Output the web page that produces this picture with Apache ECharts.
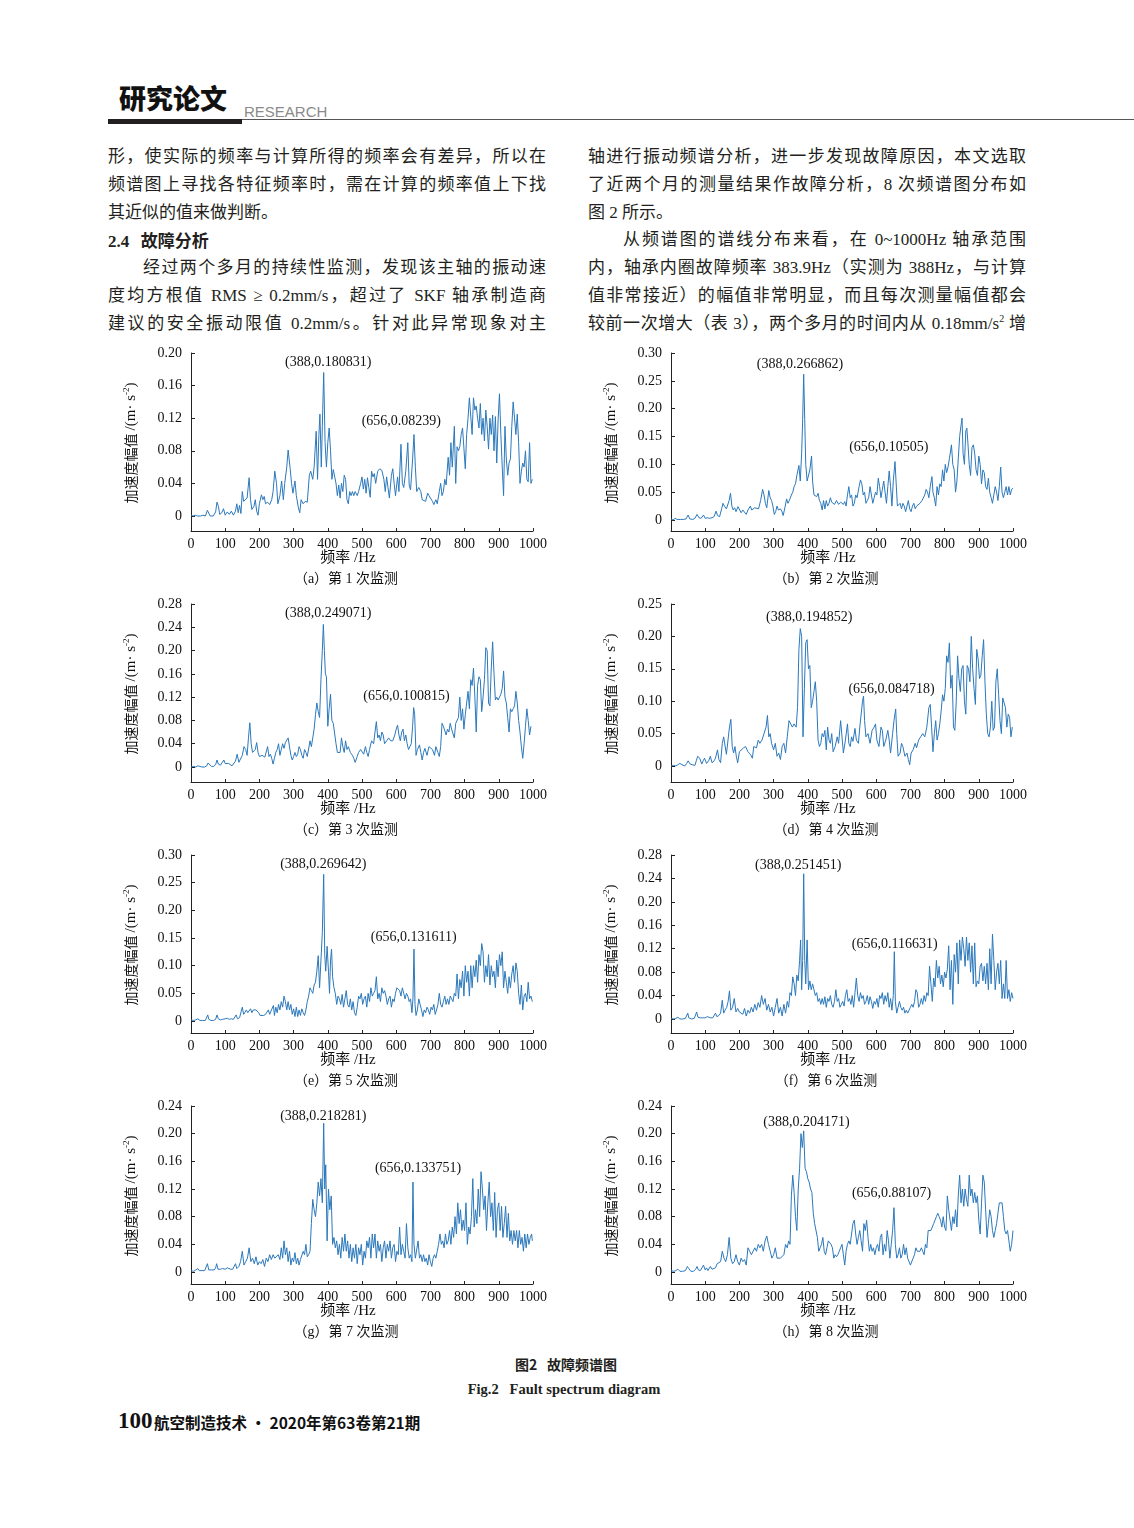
<!DOCTYPE html>
<html><head><meta charset="utf-8">
<script src="https://cdn.jsdelivr.net/npm/echarts@6/dist/echarts.min.js"></script>
<style>
html,body{margin:0;padding:0;background:#fff;}
#page{position:relative;width:1134px;height:1528px;overflow:hidden;background:#fff;color:#231f20;}
.t{position:absolute;white-space:nowrap;}
.ln{position:absolute;width:438px;height:28px;line-height:28px;font-size:17px;font-family:"Liberation Serif","Noto Sans CJK SC",serif;text-align:justify;text-align-last:justify;color:#231f20;}
.ln.last{text-align-last:left;}
.ln.ind{padding-left:35px;width:403px;}
.ln sup{font-size:10px;line-height:0;vertical-align:7px;}
#chart{position:absolute;left:0;top:0;width:1134px;height:1528px;}
</style></head>
<body>
<div id="page">
  <div class="t" style="left:119px;top:82px;font:900 27px/32px 'Noto Sans CJK SC';color:#111;letter-spacing:0px;">研究论文</div>
  <div class="t" style="left:244px;top:104px;font:15px/16px 'Liberation Sans Narrow','Liberation Sans',sans-serif;color:#8a8a8a;">RESEARCH</div>
  <div class="t" style="left:108px;top:119px;width:134px;height:5px;background:#231f20;"></div>
  <div class="t" style="left:242px;top:119px;width:892px;height:1px;background:#555;"></div>

  <div class="ln" style="left:108px;top:143px;">形，使实际的频率与计算所得的频率会有差异，所以在</div>
  <div class="ln" style="left:108px;top:171px;">频谱图上寻找各特征频率时，需在计算的频率值上下找</div>
  <div class="ln last" style="left:108px;top:199px;">其近似的值来做判断。</div>
  <div class="ln last" style="left:108px;top:226px;font-family:'Noto Sans CJK SC';font-weight:bold;"><span style="font-family:'Liberation Serif';font-weight:bold;">2.4</span>&nbsp;&nbsp;&nbsp;故障分析</div>
  <div class="ln ind" style="left:108px;top:254px;">经过两个多月的持续性监测，发现该主轴的振动速</div>
  <div class="ln" style="left:108px;top:282px;">度均方根值 RMS ≥ 0.2mm/s，超过了 SKF 轴承制造商</div>
  <div class="ln" style="left:108px;top:310px;">建议的安全振动限值 0.2mm/s。针对此异常现象对主</div>

  <div class="ln" style="left:588px;top:143px;">轴进行振动频谱分析，进一步发现故障原因，本文选取</div>
  <div class="ln" style="left:588px;top:171px;">了近两个月的测量结果作故障分析，8 次频谱图分布如</div>
  <div class="ln last" style="left:588px;top:199px;">图 2 所示。</div>
  <div class="ln ind" style="left:588px;top:226px;">从频谱图的谱线分布来看，在 0~1000Hz 轴承范围</div>
  <div class="ln" style="left:588px;top:254px;">内，轴承内圈故障频率 383.9Hz（实测为 388Hz，与计算</div>
  <div class="ln" style="left:588px;top:282px;">值非常接近）的幅值非常明显，而且每次测量幅值都会</div>
  <div class="ln" style="left:588px;top:310px;">较前一次增大（表 3），两个多月的时间内从 0.18mm/s<sup>2</sup> 增</div>

  <div class="t" style="left:366px;top:1353px;width:400px;text-align:center;font:bold 14px/22px 'Noto Sans CJK SC';color:#231f20;">图2&nbsp;&nbsp;&nbsp;故障频谱图</div>
  <div class="t" style="left:364px;top:1378px;width:400px;text-align:center;font:bold 14.5px/22px 'Liberation Serif';color:#231f20;">Fig.2&nbsp;&nbsp;&nbsp;Fault spectrum diagram</div>

  <div class="t" style="left:118px;top:1407px;font:bold 23px/28px 'Liberation Serif';color:#111;">100</div>
  <div class="t" style="left:154px;top:1409px;font:bold 15.5px/26px 'Noto Sans CJK SC';color:#111;">航空制造技术 · 2020年第63卷第21期</div>

  <div id="chart"></div>
</div>
<script>
// ---------------- data ----------------
const xTicks = [0,100,200,300,400,500,600,700,800,900,1000];

const specA = [[0,.001],[6,0],[12,.001],[18,0],[22,.002],[28,0],[35,.001],[42,0],[48,.007],[52,.006],[56,0],[65,0],[72,.005],[76,.017],[80,.012],[84,.002],[90,.004],[95,.009],[100,.001],[106,.005],[112,.002],[118,.006],[124,.001],[130,.006],[134,.015],[138,.004],[142,.013],[146,.003],[150,.03],[154,.018],[158,.02],[164,.022],[170,.047],[174,.02],[178,.008],[184,.012],[188,.02],[192,.006],[196,.001],[200,.015],[206,.026],[210,.02],[214,.024],[218,.015],[224,.017],[230,.014],[236,.02],[240,.03],[245,.055],[250,.04],[254,.015],[260,.025],[265,.043],[270,.02],[274,.04],[280,.06],[284,.081],[290,.058],[294,.04],[298,.028],[304,.043],[308,.025],[314,.01],[318,.004],[322,.02],[328,.015],[334,.018],[340,.017],[346,.05],[350,.055],[356,.045],[360,.06],[366,.104],[370,.045],[374,.1],[377,.125],[381,.06],[384,.11],[388,.176],[392,.09],[396,.06],[400,.09],[404,.108],[408,.08],[412,.045],[416,.057],[420,.055],[424,.04],[428,.025],[432,.038],[436,.022],[440,.04],[444,.03],[448,.05],[452,.045],[456,.02],[460,.015],[464,.03],[468,.025],[472,.03],[476,.025],[480,.03],[486,.025],[490,.03],[496,.04],[500,.048],[504,.033],[508,.045],[512,.028],[516,.047],[520,.035],[524,.023],[528,.055],[532,.048],[536,.052],[540,.04],[546,.055],[552,.058],[558,.056],[564,.045],[568,.03],[572,.048],[576,.035],[580,.022],[586,.05],[590,.058],[594,.04],[598,.025],[604,.048],[608,.03],[614,.088],[618,.04],[622,.035],[628,.055],[634,.09],[638,.038],[642,.032],[648,.07],[652,.1],[656,.06],[660,.03],[666,.035],[672,.03],[676,.02],[680,.022],[686,.018],[692,.028],[696,.025],[700,.024],[706,.018],[710,.014],[716,.02],[720,.015],[726,.03],[730,.04],[734,.025],[738,.03],[742,.045],[746,.038],[752,.072],[756,.05],[760,.09],[764,.06],[770,.11],[774,.04],[778,.085],[782,.08],[786,.085],[790,.1],[794,.108],[798,.11],[802,.058],[806,.1],[810,.12],[814,.145],[818,.145],[822,.1],[826,.145],[830,.13],[834,.135],[838,.12],[842,.108],[846,.138],[850,.1],[854,.12],[858,.092],[862,.13],[866,.11],[870,.082],[874,.12],[878,.1],[882,.124],[886,.08],[890,.122],[894,.065],[898,.118],[902,.15],[906,.1],[910,.06],[914,.025],[918,.11],[922,.07],[926,.05],[930,.065],[934,.07],[938,.11],[942,.14],[946,.12],[950,.1],[954,.125],[958,.09],[962,.04],[966,.055],[970,.065],[974,.06],[978,.08],[982,.045],[986,.042],[990,.09],[994,.04],[998,.045]];

const specB = [[0,.002],[6,0],[12,.003],[18,.001],[22,.004],[28,.001],[36,.001],[44,.002],[50,.009],[55,.002],[64,.001],[70,.003],[76,.01],[82,.004],[88,.003],[95,.009],[100,.003],[106,.004],[112,.003],[120,.004],[126,.006],[132,.016],[136,.008],[142,.006],[148,.02],[152,.03],[156,.025],[162,.02],[166,.022],[170,.035],[174,.048],[178,.025],[182,.018],[186,.022],[190,.015],[196,.024],[200,.022],[205,.013],[210,.018],[215,.015],[220,.01],[225,.018],[232,.025],[236,.018],[240,.015],[245,.022],[250,.02],[256,.02],[262,.035],[268,.055],[272,.045],[276,.03],[280,.022],[286,.053],[290,.04],[294,.035],[298,.025],[302,.01],[306,.015],[310,.025],[314,.018],[320,.02],[324,.016],[328,.008],[334,.025],[338,.038],[342,.03],[346,.035],[352,.045],[356,.05],[360,.06],[364,.065],[368,.08],[374,.098],[378,.07],[382,.12],[385,.18],[388,.262],[391,.18],[394,.1],[398,.07],[402,.07],[406,.09],[411,.115],[414,.07],[418,.045],[422,.048],[426,.042],[430,.048],[434,.035],[438,.03],[442,.018],[446,.035],[450,.02],[454,.035],[458,.025],[462,.03],[466,.04],[470,.032],[474,.035],[478,.028],[484,.035],[490,.028],[496,.032],[500,.035],[504,.028],[508,.033],[512,.025],[516,.045],[520,.06],[524,.04],[528,.045],[532,.025],[536,.03],[540,.045],[544,.04],[550,.06],[554,.072],[558,.065],[562,.045],[566,.05],[570,.03],[574,.035],[578,.04],[582,.06],[586,.058],[590,.03],[594,.04],[598,.05],[602,.045],[606,.075],[610,.06],[614,.04],[618,.055],[622,.07],[626,.05],[630,.03],[634,.06],[638,.088],[642,.06],[646,.025],[650,.07],[655,.105],[658,.07],[662,.025],[666,.022],[670,.03],[674,.02],[678,.03],[682,.025],[686,.015],[690,.012],[694,.035],[698,.02],[702,.015],[706,.025],[710,.03],[714,.02],[718,.025],[722,.022],[728,.03],[734,.035],[738,.038],[742,.045],[746,.055],[750,.05],[754,.04],[758,.06],[763,.078],[766,.05],[770,.04],[774,.025],[778,.06],[782,.045],[786,.065],[790,.06],[794,.09],[798,.07],[802,.1],[806,.085],[810,.095],[814,.11],[820,.135],[824,.1],[828,.09],[832,.05],[836,.07],[840,.11],[844,.15],[848,.17],[851,.183],[854,.12],[858,.1],[862,.16],[865,.165],[868,.14],[872,.1],[876,.08],[880,.13],[884,.135],[888,.12],[892,.09],[896,.08],[900,.115],[904,.1],[908,.065],[912,.09],[916,.085],[920,.06],[924,.055],[928,.075],[932,.05],[936,.04],[940,.03],[944,.045],[948,.06],[952,.05],[956,.035],[960,.06],[964,.095],[968,.05],[972,.04],[976,.05],[980,.06],[984,.045],[988,.06],[992,.045],[996,.055],[1000,.057]];

const specC = [[0,0],[8,.001],[14,0],[20,.002],[26,.001],[32,0],[40,0],[46,.002],[50,.007],[54,.004],[60,.001],[66,.001],[72,.004],[76,.012],[80,.005],[86,.003],[90,.002],[96,.012],[100,.006],[105,.003],[110,.006],[115,.008],[120,.002],[125,.001],[130,.01],[135,.022],[140,.008],[145,.005],[150,.02],[155,.035],[160,.03],[164,.02],[168,.05],[172,.076],[176,.04],[180,.025],[184,.022],[188,.03],[192,.042],[196,.025],[200,.018],[204,.015],[208,.02],[212,.022],[216,.017],[220,.02],[224,.035],[228,.018],[232,.022],[236,.015],[240,.005],[244,.015],[248,.025],[252,.03],[256,.04],[260,.02],[264,.03],[268,.04],[272,.032],[276,.042],[280,.045],[284,.05],[288,.05],[292,.02],[296,.012],[300,.018],[304,.025],[308,.018],[312,.022],[316,.035],[320,.03],[324,.02],[328,.015],[332,.03],[336,.025],[340,.018],[344,.015],[348,.045],[352,.035],[356,.05],[360,.065],[364,.09],[368,.11],[372,.095],[376,.085],[380,.15],[384,.2],[387,.245],[390,.2],[393,.16],[396,.155],[400,.07],[404,.1],[408,.125],[412,.08],[416,.075],[420,.076],[424,.04],[428,.025],[432,.022],[436,.025],[440,.05],[444,.035],[448,.025],[452,.045],[456,.03],[460,.035],[466,.025],[472,.02],[476,.015],[480,.008],[486,.018],[490,.025],[496,.03],[500,.032],[505,.022],[510,.035],[514,.025],[518,.018],[522,.03],[528,.045],[534,.04],[538,.06],[542,.078],[546,.05],[550,.055],[554,.045],[558,.06],[562,.055],[566,.04],[572,.045],[578,.05],[584,.045],[590,.045],[596,.055],[600,.065],[604,.072],[608,.055],[612,.045],[616,.06],[620,.065],[624,.045],[628,.055],[632,.04],[636,.03],[640,.035],[644,.04],[648,.07],[651,.102],[654,.09],[658,.02],[662,.03],[668,.038],[672,.025],[676,.012],[680,.025],[684,.032],[690,.02],[696,.035],[700,.036],[706,.03],[712,.02],[716,.035],[722,.025],[726,.018],[730,.035],[734,.075],[738,.07],[742,.07],[746,.055],[750,.065],[754,.06],[758,.075],[762,.065],[766,.068],[770,.05],[774,.075],[778,.072],[782,.085],[786,.12],[790,.08],[794,.1],[798,.065],[802,.09],[806,.11],[810,.13],[814,.1],[818,.15],[822,.14],[826,.17],[830,.12],[834,.06],[838,.14],[842,.155],[846,.15],[850,.095],[854,.12],[858,.15],[862,.205],[866,.2],[870,.11],[874,.105],[878,.17],[882,.215],[886,.16],[890,.115],[894,.12],[898,.115],[902,.12],[906,.125],[910,.135],[914,.165],[918,.12],[922,.11],[926,.085],[930,.06],[934,.1],[938,.095],[942,.1],[946,.105],[950,.13],[954,.11],[958,.08],[962,.06],[966,.035],[970,.015],[974,.04],[978,.07],[982,.1],[986,.08],[990,.055],[994,.07]];

const specD = [[0,0],[8,.001],[14,0],[20,.002],[26,.004],[32,.002],[40,0],[46,.004],[50,.008],[56,.003],[62,.002],[70,.001],[74,.008],[78,.015],[84,.012],[90,.003],[94,.008],[98,.012],[104,.004],[110,.008],[115,.015],[120,.005],[126,.008],[130,.012],[136,.025],[140,.01],[145,.005],[150,.035],[154,.045],[158,.048],[162,.018],[166,.02],[171,.06],[175,.072],[179,.03],[183,.02],[187,.03],[191,.015],[195,.005],[200,.022],[205,.02],[212,.028],[218,.03],[225,.022],[232,.018],[238,.012],[242,.03],[250,.028],[255,.04],[260,.035],[266,.04],[272,.05],[278,.06],[282,.078],[286,.045],[290,.05],[294,.035],[300,.025],[305,.035],[310,.015],[315,.02],[320,.01],[325,.03],[330,.035],[335,.02],[340,.045],[345,.07],[350,.07],[355,.06],[360,.065],[366,.06],[370,.09],[374,.18],[378,.212],[382,.2],[386,.045],[390,.12],[394,.19],[398,.195],[402,.15],[406,.155],[410,.09],[414,.1],[418,.115],[422,.13],[426,.1],[430,.04],[434,.03],[438,.035],[442,.05],[446,.045],[450,.055],[454,.025],[458,.06],[462,.04],[466,.035],[470,.05],[474,.022],[480,.03],[486,.045],[490,.035],[496,.07],[500,.045],[504,.02],[510,.04],[516,.065],[520,.035],[524,.03],[528,.045],[532,.038],[538,.058],[542,.04],[548,.035],[552,.06],[556,.06],[560,.1],[563,.108],[566,.07],[570,.045],[576,.05],[582,.035],[588,.055],[594,.06],[598,.065],[602,.04],[608,.03],[614,.06],[618,.055],[622,.03],[628,.04],[634,.055],[638,.04],[642,.02],[648,.05],[652,.07],[657,.088],[660,.05],[664,.015],[670,.02],[674,.035],[678,.03],[684,.015],[690,.02],[694,.01],[698,.002],[702,.02],[708,.025],[714,.035],[718,.028],[724,.04],[730,.045],[736,.05],[742,.045],[748,.06],[754,.09],[758,.095],[762,.06],[766,.022],[770,.05],[774,.07],[778,.04],[782,.05],[786,.065],[790,.085],[794,.11],[798,.1],[802,.12],[806,.17],[810,.16],[814,.19],[818,.12],[822,.14],[826,.06],[830,.055],[834,.1],[838,.17],[842,.135],[846,.115],[850,.15],[854,.155],[858,.1],[862,.08],[866,.155],[870,.15],[874,.13],[878,.2],[882,.15],[886,.12],[890,.095],[894,.18],[898,.165],[902,.135],[906,.14],[910,.17],[914,.195],[918,.13],[922,.08],[926,.05],[930,.045],[934,.06],[938,.1],[942,.055],[946,.06],[950,.13],[954,.15],[958,.11],[962,.07],[966,.05],[970,.105],[974,.105],[978,.09],[982,.06],[986,.08],[990,.075],[994,.045],[998,.06]];

const specE = [[0,.002],[8,.001],[14,.002],[20,.004],[26,.001],[34,.001],[42,.001],[46,.004],[49,.011],[52,.003],[58,.001],[66,.001],[72,.003],[76,.011],[80,.004],[86,.002],[92,.003],[96,.006],[100,.004],[106,.005],[112,.003],[118,.004],[124,.003],[128,.006],[132,.011],[136,.004],[142,.006],[146,.008],[150,.025],[154,.012],[158,.016],[162,.02],[166,.015],[170,.018],[174,.022],[178,.015],[182,.02],[186,.022],[190,.02],[194,.022],[198,.015],[202,.01],[206,.008],[212,.01],[218,.012],[222,.015],[226,.02],[230,.012],[234,.018],[238,.015],[241,.028],[244,.01],[248,.025],[252,.015],[256,.03],[260,.02],[264,.035],[268,.025],[272,.045],[276,.035],[280,.02],[284,.035],[288,.02],[292,.03],[296,.012],[300,.022],[304,.008],[308,.025],[312,.008],[316,.02],[320,.01],[324,.022],[328,.015],[332,.01],[336,.02],[340,.035],[344,.045],[348,.06],[352,.055],[356,.05],[360,.065],[364,.07],[368,.09],[372,.118],[376,.06],[380,.11],[384,.16],[388,.265],[391,.12],[394,.09],[398,.135],[402,.09],[405,.05],[408,.11],[411,.13],[414,.08],[418,.06],[422,.05],[426,.03],[430,.045],[434,.04],[438,.03],[442,.048],[446,.025],[450,.04],[454,.055],[458,.03],[462,.025],[466,.04],[470,.02],[474,.035],[478,.015],[482,.01],[486,.025],[490,.045],[494,.04],[498,.05],[502,.03],[506,.04],[510,.045],[514,.025],[518,.05],[522,.035],[526,.06],[530,.045],[534,.05],[538,.055],[542,.08],[546,.04],[550,.05],[554,.035],[558,.06],[562,.05],[566,.055],[570,.045],[574,.03],[578,.04],[582,.045],[586,.025],[590,.04],[594,.035],[598,.05],[602,.06],[606,.06],[610,.055],[614,.045],[618,.06],[622,.05],[626,.04],[630,.05],[634,.045],[638,.035],[642,.04],[646,.015],[649,.04],[652,.13],[655,.03],[658,.01],[662,.02],[666,.04],[670,.03],[674,.02],[678,.008],[682,.02],[686,.015],[690,.025],[694,.02],[698,.012],[702,.025],[706,.02],[710,.03],[714,.012],[718,.02],[722,.03],[726,.05],[730,.03],[734,.025],[738,.035],[742,.045],[746,.03],[750,.04],[754,.03],[758,.045],[762,.04],[766,.035],[770,.05],[774,.045],[778,.085],[782,.04],[786,.075],[790,.06],[794,.09],[798,.045],[802,.1],[806,.07],[810,.09],[814,.045],[818,.1],[822,.06],[826,.1],[830,.08],[834,.11],[838,.07],[842,.12],[846,.1],[850,.14],[854,.125],[858,.07],[862,.1],[866,.08],[870,.12],[874,.065],[878,.1],[882,.08],[886,.09],[890,.06],[894,.11],[898,.08],[902,.12],[906,.1],[910,.125],[914,.06],[918,.09],[922,.07],[926,.05],[930,.08],[934,.06],[938,.085],[942,.1],[946,.07],[950,.105],[954,.09],[958,.05],[962,.03],[966,.065],[970,.02],[974,.045],[978,.05],[982,.035],[986,.07],[990,.04],[994,.045],[998,.035]];

const specF = [[0,.001],[8,0],[14,.001],[20,.003],[26,0],[34,0],[42,.001],[46,.004],[49,.01],[52,.002],[60,0],[68,.001],[72,.004],[75,.012],[79,.003],[86,.002],[92,.002],[96,.004],[100,.002],[106,.004],[110,.005],[116,.002],[122,.002],[126,.005],[130,.01],[134,.004],[140,.006],[145,.01],[150,.032],[154,.01],[158,.015],[163,.02],[167,.03],[171,.048],[175,.015],[180,.02],[185,.035],[190,.012],[195,.018],[200,.012],[205,.015],[210,.008],[215,.018],[220,.005],[225,.015],[230,.01],[235,.02],[240,.012],[245,.025],[250,.015],[255,.028],[260,.02],[265,.04],[270,.025],[275,.035],[280,.015],[285,.025],[290,.012],[295,.02],[300,.005],[305,.02],[310,.035],[315,.01],[320,.02],[325,.005],[330,.025],[335,.01],[340,.03],[344,.02],[348,.045],[352,.04],[356,.072],[360,.06],[364,.04],[368,.075],[372,.065],[376,.1],[379,.135],[382,.05],[385,.1],[388,.248],[391,.1],[394,.06],[398,.135],[402,.05],[406,.065],[410,.05],[414,.06],[418,.06],[422,.04],[426,.045],[430,.03],[434,.035],[438,.025],[442,.035],[446,.025],[450,.038],[454,.02],[458,.035],[462,.03],[466,.04],[470,.025],[474,.02],[478,.03],[482,.05],[486,.03],[490,.035],[494,.02],[498,.025],[502,.03],[506,.022],[510,.04],[514,.05],[518,.03],[522,.035],[526,.025],[530,.04],[534,.02],[538,.045],[542,.07],[546,.04],[550,.03],[554,.045],[558,.035],[562,.04],[566,.025],[570,.03],[574,.04],[578,.025],[582,.038],[586,.03],[590,.018],[594,.03],[598,.025],[602,.035],[606,.02],[610,.04],[614,.035],[618,.045],[622,.025],[626,.04],[630,.03],[634,.045],[638,.02],[642,.035],[646,.015],[650,.04],[653,.115],[656,.03],[660,.01],[664,.02],[668,.03],[672,.02],[676,.015],[680,.02],[684,.01],[688,.015],[692,.01],[696,.012],[700,.02],[704,.025],[708,.02],[712,.03],[716,.05],[720,.045],[724,.02],[728,.025],[732,.035],[736,.025],[740,.04],[744,.03],[748,.045],[752,.04],[756,.09],[760,.06],[764,.03],[768,.07],[772,.055],[776,.1],[780,.07],[784,.09],[788,.06],[792,.075],[796,.055],[800,.08],[804,.07],[808,.085],[812,.125],[816,.05],[820,.1],[824,.025],[828,.11],[832,.08],[836,.13],[840,.06],[844,.135],[848,.1],[852,.14],[856,.12],[860,.09],[864,.14],[868,.1],[872,.13],[876,.08],[880,.125],[884,.06],[888,.13],[892,.055],[896,.065],[900,.06],[904,.09],[908,.095],[912,.065],[916,.09],[920,.06],[924,.095],[928,.05],[932,.12],[936,.06],[940,.145],[944,.1],[948,.05],[952,.08],[956,.095],[960,.06],[964,.1],[968,.035],[972,.06],[976,.035],[980,.1],[984,.035],[988,.05],[992,.03],[996,.045],[1000,.035]];

const specG = [[0,.002],[8,.001],[14,.003],[20,.005],[24,.002],[32,.002],[40,.002],[45,.004],[48,.012],[52,.003],[60,.003],[68,.003],[72,.006],[75,.012],[79,.004],[86,.004],[92,.005],[96,.007],[100,.004],[106,.006],[110,.005],[116,.004],[122,.004],[126,.006],[130,.012],[134,.005],[140,.008],[145,.015],[150,.03],[155,.01],[160,.015],[165,.02],[170,.035],[175,.015],[180,.02],[185,.012],[190,.022],[195,.01],[200,.015],[205,.012],[210,.018],[215,.008],[220,.02],[225,.015],[230,.025],[235,.018],[240,.025],[245,.02],[250,.022],[255,.025],[260,.018],[264,.035],[268,.02],[272,.045],[276,.025],[280,.035],[284,.015],[288,.03],[292,.01],[296,.02],[300,.015],[304,.028],[308,.012],[312,.02],[316,.01],[320,.018],[324,.02],[328,.03],[332,.025],[336,.04],[340,.022],[344,.025],[348,.03],[352,.07],[356,.105],[360,.09],[364,.08],[368,.1],[372,.13],[376,.11],[380,.135],[384,.1],[388,.215],[391,.12],[394,.155],[398,.045],[402,.12],[406,.09],[410,.11],[414,.04],[418,.05],[422,.035],[426,.045],[430,.025],[434,.04],[438,.02],[442,.05],[446,.03],[450,.055],[454,.03],[458,.045],[462,.02],[466,.04],[470,.015],[474,.035],[478,.02],[482,.04],[486,.012],[490,.035],[494,.025],[498,.04],[502,.01],[506,.03],[510,.02],[514,.045],[518,.035],[522,.05],[526,.02],[530,.055],[534,.035],[538,.055],[542,.02],[546,.045],[550,.03],[554,.04],[558,.015],[562,.035],[566,.045],[570,.02],[574,.04],[578,.03],[582,.045],[586,.02],[590,.035],[594,.04],[598,.015],[602,.03],[606,.025],[610,.065],[614,.025],[618,.04],[622,.03],[626,.02],[630,.07],[634,.035],[638,.02],[642,.025],[646,.015],[649,.13],[652,.04],[656,.02],[660,.02],[664,.045],[668,.02],[672,.025],[676,.015],[680,.025],[684,.015],[688,.02],[692,.01],[696,.025],[700,.015],[704,.008],[708,.02],[712,.025],[716,.02],[720,.03],[724,.04],[728,.055],[732,.04],[736,.045],[740,.035],[744,.055],[748,.04],[752,.045],[756,.06],[760,.04],[764,.065],[768,.05],[772,.08],[776,.055],[780,.1],[784,.07],[788,.09],[792,.06],[796,.075],[800,.06],[804,.1],[808,.04],[812,.065],[816,.055],[820,.08],[824,.135],[828,.065],[832,.09],[836,.07],[840,.12],[844,.08],[848,.145],[852,.12],[856,.09],[860,.11],[864,.06],[868,.1],[872,.13],[876,.08],[880,.1],[884,.06],[888,.115],[892,.05],[896,.09],[900,.1],[904,.06],[908,.095],[912,.05],[916,.07],[920,.095],[924,.05],[928,.085],[932,.045],[936,.06],[940,.04],[944,.06],[948,.045],[952,.06],[956,.035],[960,.06],[964,.04],[968,.05],[972,.03],[976,.055],[980,.035],[984,.055],[988,.04],[992,.05],[996,.055],[998,.045]];

const specH = [[0,.002],[8,.001],[14,.002],[20,.004],[26,.001],[34,.001],[42,.002],[48,.008],[52,.005],[58,.001],[66,.001],[72,.004],[76,.008],[80,.003],[86,.002],[90,.004],[95,.01],[100,.003],[104,.006],[108,.002],[115,.008],[120,.004],[125,.002],[130,.006],[135,.012],[140,.01],[145,.015],[150,.03],[155,.02],[160,.015],[165,.025],[170,.05],[175,.02],[180,.012],[185,.015],[190,.025],[195,.015],[200,.01],[205,.02],[210,.015],[215,.018],[220,.01],[225,.035],[230,.03],[235,.025],[240,.03],[245,.035],[250,.03],[255,.04],[260,.035],[265,.04],[270,.03],[275,.045],[280,.052],[285,.04],[290,.03],[295,.02],[300,.025],[305,.035],[310,.02],[315,.018],[320,.02],[325,.022],[330,.025],[335,.04],[340,.035],[344,.045],[348,.04],[352,.11],[356,.14],[360,.115],[364,.08],[368,.06],[372,.12],[376,.15],[380,.2],[384,.18],[388,.204],[392,.15],[396,.145],[400,.135],[404,.13],[408,.12],[412,.115],[416,.085],[420,.07],[424,.068],[428,.05],[432,.03],[436,.035],[440,.04],[444,.05],[448,.03],[452,.025],[456,.035],[460,.045],[464,.045],[468,.04],[472,.035],[476,.02],[480,.025],[484,.022],[488,.025],[492,.03],[496,.035],[500,.04],[504,.025],[508,.01],[512,.03],[516,.04],[520,.045],[524,.04],[528,.055],[532,.07],[536,.075],[540,.055],[544,.04],[548,.05],[552,.06],[556,.045],[560,.03],[564,.07],[568,.06],[572,.075],[576,.05],[580,.03],[584,.04],[588,.03],[592,.035],[596,.025],[600,.035],[604,.04],[608,.03],[612,.05],[616,.055],[620,.025],[624,.04],[628,.03],[632,.06],[636,.045],[640,.02],[644,.04],[648,.06],[652,.093],[656,.04],[660,.02],[664,.025],[668,.035],[672,.02],[676,.025],[680,.04],[684,.025],[688,.035],[692,.02],[696,.015],[700,.01],[704,.01],[708,.02],[712,.025],[716,.035],[720,.03],[724,.028],[728,.03],[732,.035],[736,.03],[740,.025],[744,.04],[748,.035],[752,.06],[756,.058],[760,.06],[764,.065],[768,.07],[772,.075],[776,.08],[780,.085],[784,.08],[788,.075],[792,.065],[796,.08],[800,.065],[804,.06],[808,.11],[812,.09],[816,.075],[820,.06],[824,.08],[828,.07],[832,.09],[836,.065],[840,.11],[844,.14],[848,.1],[852,.12],[856,.095],[860,.12],[864,.105],[868,.095],[872,.14],[876,.11],[880,.12],[884,.1],[888,.115],[892,.1],[896,.11],[900,.075],[904,.055],[908,.1],[912,.14],[916,.13],[920,.09],[924,.05],[928,.07],[932,.09],[936,.08],[940,.06],[944,.05],[948,.06],[952,.07],[956,.085],[960,.1],[964,.1],[968,.1],[972,.08],[976,.06],[980,.055],[984,.06],[988,.045],[992,.03],[996,.04],[1000,.06]];

const yMaxes = [0.20, 0.30, 0.28, 0.25, 0.30, 0.28, 0.24, 0.24];
const yTickA = [0, 0.04, 0.08, 0.12, 0.16, 0.20];
const yTickB = [0, 0.05, 0.10, 0.15, 0.20, 0.25, 0.30];
const yTickC = [0, 0.04, 0.08, 0.12, 0.16, 0.20, 0.24, 0.28];
const yTickD = [0, 0.05, 0.10, 0.15, 0.20, 0.25];
const yTickE = [0, 0.05, 0.10, 0.15, 0.20, 0.25, 0.30];
const yTickF = [0, 0.04, 0.08, 0.12, 0.16, 0.20, 0.24, 0.28];
const yTickG = [0, 0.04, 0.08, 0.12, 0.16, 0.20, 0.24];
const yTickH = [0, 0.04, 0.08, 0.12, 0.16, 0.20, 0.24];

const peakLabels = ['(388,0.180831)','(388,0.266862)','(388,0.249071)','(388,0.194852)','(388,0.269642)','(388,0.251451)','(388,0.218281)','(388,0.204171)'];
const sideLabels = ['(656,0.08239)','(656,0.10505)','(656,0.100815)','(656,0.084718)','(656,0.131611)','(656,0.116631)','(656,0.133751)','(656,0.88107)'];
const captions = ['（a）第 1 次监测','（b）第 2 次监测','（c）第 3 次监测','（d）第 4 次监测','（e）第 5 次监测','（f）第 6 次监测','（g）第 7 次监测','（h）第 8 次监测'];
const xName = '频率 /Hz';

// ---------------- layout (positions, not data) ----------------
const spectra = [specA, specB, specC, specD, specE, specF, specG, specH];
const yTicks = [yTickA, yTickB, yTickC, yTickD, yTickE, yTickF, yTickG, yTickH];
const colLeft = [191, 671], rowTop = [353, 604, 855, 1106], plotW = 342, plotH = 178;
const zeroGapPx = [15, 11, 15, 16, 12, 14, 12, 12];
const peakLabelAt = [[401,0.189],[377,0.279],[401,0.264],[404,0.229],[387,0.284],[372,0.263],[387,0.225],[396,0.216]];
const sideLabelAt = [[615,0.116],[637,0.131],[630,0.122],[645,0.119],[651,0.152],[654,0.128],[664,0.150],[645,0.114]];

const TXT = '#111';
const SERIF = "'Liberation Serif','Noto Sans CJK SC',serif";
const LINE = '#2b78bb';

const grids = [], xAxes = [], yAxes = [], series = [], graphics = [];
for (let i = 0; i < 8; i++) {
  const col = i % 2, row = Math.floor(i / 2);
  const left = colLeft[col], top = rowTop[row];
  const yMax = yMaxes[i];
  const yMin = -yMax * zeroGapPx[i] / (plotH - zeroGapPx[i]);
  grids.push({left: left, top: top, width: plotW, height: plotH, containLabel: false});
  xAxes.push({
    gridIndex: i, type: 'value', min: 0, max: 1000, interval: 100,
    axisLine: {show: true, onZero: false, lineStyle: {color: '#222', width: 1}},
    axisTick: {show: true, inside: true, length: 3, lineStyle: {color: '#222'}},
    axisLabel: {show: true, color: TXT, fontFamily: SERIF, fontSize: 14, margin: 6, showMinLabel: true, showMaxLabel: true,
      customValues: xTicks, formatter: v => String(Math.round(v))},
    splitLine: {show: false}
  });
  yAxes.push({
    gridIndex: i, type: 'value', min: yMin, max: yMax,
    axisLine: {show: true, onZero: false, lineStyle: {color: '#222', width: 1}},
    axisTick: {show: true, inside: true, length: 4, customValues: yTicks[i], lineStyle: {color: '#222'}},
    axisLabel: {show: true, customValues: yTicks[i], color: TXT, fontFamily: SERIF, fontSize: 14, margin: 9,
      formatter: v => (Math.abs(v) < 1e-9 ? '0' : v.toFixed(2))},
    splitLine: {show: false}
  });
  series.push({
    type: 'line', xAxisIndex: i, yAxisIndex: i, data: spectra[i],
    symbol: 'none', showSymbol: false, animation: false, silent: true,
    lineStyle: {color: LINE, width: 1}, itemStyle: {color: LINE},
    markPoint: {
      symbol: 'circle', symbolSize: 0, silent: true, animation: false,
      label: {show: true, position: 'inside', color: TXT, fontFamily: SERIF, fontSize: 14},
      data: [
        {coord: peakLabelAt[i], label: {formatter: peakLabels[i]}},
        {coord: sideLabelAt[i], label: {formatter: sideLabels[i]}}
      ]
    }
  });
  const bottom = top + plotH;
  const cx = left + plotW / 2 - 15;
  graphics.push({type: 'text', x: cx + 1, y: bottom + 27, silent: true,
    style: {text: xName, fill: TXT, fontFamily: SERIF, fontSize: 15, textAlign: 'center', textVerticalAlign: 'middle'}});
  graphics.push({type: 'text', x: cx - 1, y: bottom + 48, silent: true,
    style: {text: captions[i], fill: TXT, fontFamily: SERIF, fontSize: 14, textAlign: 'center', textVerticalAlign: 'middle'}});
  graphics.push({type: 'text', x: left - 60, y: top + 90, rotation: Math.PI / 2, silent: true,
    style: {
      text: '{c|加速度幅值 }{l|/(m· s}{s|-2}{l|)}',
      fill: TXT, textAlign: 'center', textVerticalAlign: 'middle',
      rich: {
        c: {fontFamily: "'Noto Sans CJK SC'", fontSize: 14, lineHeight: 18, fill: TXT},
        l: {fontFamily: SERIF, fontSize: 15, lineHeight: 18, fill: TXT},
        s: {fontFamily: SERIF, fontSize: 9, lineHeight: 18, verticalAlign: 'top', fill: TXT, padding: [0, 0, 8, 0]}
      }
    }});
}

const chart = echarts.init(document.getElementById('chart'), null, {renderer: 'canvas', width: 1134, height: 1528});
chart.setOption({
  animation: false,
  grid: grids, xAxis: xAxes, yAxis: yAxes, series: series,
  graphic: {elements: graphics}
});
</script>
</body></html>
